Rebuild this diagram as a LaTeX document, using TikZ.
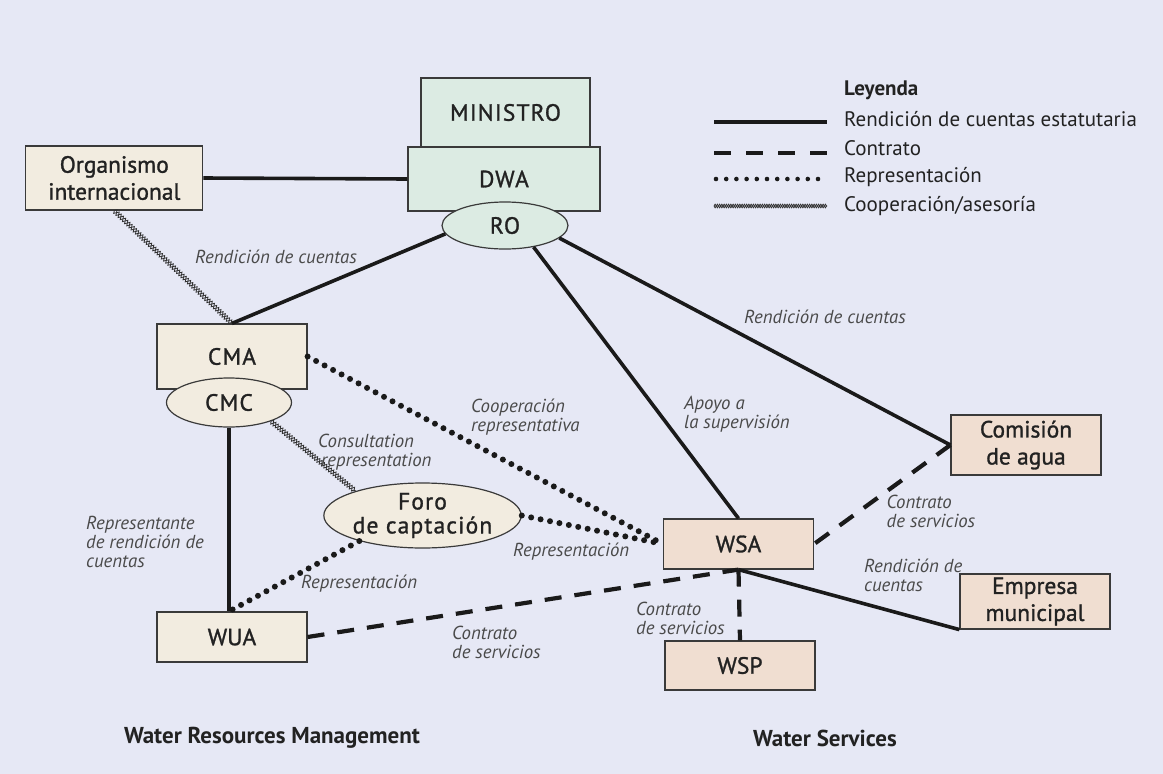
\documentclass[tikz,border=0pt]{standalone}
\usepackage{fontspec}
\setmainfont{PT Sans}
\newfontfamily\boxfont[FakeBold=1.2]{PT Sans}
\newfontfamily\spacedfont[LetterSpace=5,FakeBold=1.2]{PT Sans}
\usetikzlibrary{shapes.geometric,decorations.pathmorphing}
\definecolor{bgcol}{HTML}{E6E8F5}
\definecolor{greenf}{HTML}{DCEBE3}
\definecolor{creamf}{HTML}{F2ECE0}
\definecolor{peachf}{HTML}{F0DED1}
\definecolor{boxline}{HTML}{3A3A3A}
\definecolor{txt}{HTML}{222222}
\definecolor{lbl}{HTML}{4A4A4A}
\definecolor{ink}{HTML}{1A1A1A}
\begin{document}
\begin{tikzpicture}[x=1pt,y=-1pt,
  box/.style={draw=boxline, line width=1.2pt, inner sep=0pt, align=center,
    text=txt, font=\fontsize{23.5}{27}\boxfont},
  greenbox/.style={box, fill=greenf},
  creambox/.style={box, fill=creamf},
  peachbox/.style={box, fill=peachf},
  ell/.style={ellipse},
  spaced/.style={font=\fontsize{23.5}{24}\spacedfont},
  lab/.style={anchor=west, align=left, text=lbl, inner sep=0pt,
    font=\fontsize{18.8}{19}\selectfont\itshape},
  legtext/.style={anchor=west, inner sep=0pt, text=txt,
    font=\fontsize{21}{22}\selectfont},
  section/.style={inner sep=0pt, text=txt, font=\fontsize{23}{24}\selectfont\bfseries},
  solidline/.style={draw=ink, line width=3.6pt},
  contract/.style={draw=ink, line width=4.2pt, dash pattern=on 17pt off 13pt},
  dots/.style={draw=ink, line width=6pt, line cap=round, dash pattern=on 0pt off 9.6pt},
  coop/.style={draw=ink!90, line width=0.8pt, decorate,
    decoration={zigzag, segment length=6pt, amplitude=2.4pt}},
  coopm/.style={draw=ink!90, line width=0.8pt, decorate,
    decoration={zigzag, segment length=6pt, amplitude=2.4pt, mirror}}
]
% canvas
\fill[bgcol] (0,0) rectangle (1163,774);
\useasboundingbox (0,0) rectangle (1163,774);

% ministry and department
\node[greenbox, spaced, minimum width=169pt, minimum height=69pt] (min) at (505.5,112.5) {MINISTRO};
\node[greenbox, spaced, minimum width=192pt, minimum height=64pt] (dwa) at (504,179) {DWA};
\node[greenbox, ell, spaced, minimum width=126pt, minimum height=47pt] (ro) at (505,225.5) {RO};

% water resources side
\node[creambox, minimum width=177pt, minimum height=64pt] (org) at (114.3,178) {Organismo\\internacional};
\node[creambox, spaced, minimum width=150pt, minimum height=65pt] (cma) at (232,356.5) {CMA};
\node[creambox, ell, spaced, minimum width=125pt, minimum height=49pt] (cmc) at (229,402.5) {CMC};
\node[creambox, ell, spaced, minimum width=167pt, minimum height=65pt] (foro) at (422.5,515.5) {Foro\\de captación};
\node[creambox, minimum width=150pt, minimum height=50pt] (wua) at (232,637) {WUA};

% water services side
\node[peachbox, minimum width=150pt, minimum height=50pt] (wsa) at (738.5,544) {WSA};
\node[peachbox, minimum width=150pt, minimum height=60pt] (com) at (1026,445) {Comisión\\de agua};
\node[peachbox, minimum width=150pt, minimum height=55pt] (emp) at (1035,601.5) {Empresa\\municipal};
\node[peachbox, minimum width=150pt, minimum height=49pt] (wsp) at (740,665.5) {WSP};

% statutory accountability
\draw[solidline] (org.east) -- (dwa.west);
\draw[solidline] (ro.188) -- (cma.north);
\draw[solidline] (ro.-37) -- (wsa.north);
\draw[solidline] (ro.-13.5) -- (com.west);
\coordinate (wuatop) at (cmc.south |- wua.north);
\draw[solidline] (cmc.south) -- (wuatop);
\draw[solidline] (wsa.south) -- (emp.south west);

% contracts
\draw[contract] (wua.east) -- (wsa.south);
\draw[contract] (com.west) -- (wsa.east);
\draw[contract] (wsa.south) -- (wsp.north);

% representation
\draw[dots] (cma.east) -- (wsa.west);
\draw[dots] (foro.east) -- (wsa.west);
\draw[dots] (foro.202.5) -- (wuatop);

% cooperation / advice
\draw[coop] (org.south) -- (cma.north);
\draw[coopm] (org.south) -- (cma.north);
\draw[coop] (cmc.-24) -- (foro.160);
\draw[coopm] (cmc.-24) -- (foro.160);

% connector labels
\node[lab] (l1) at (195,257) {Rendición de cuentas};
\node[lab] (l2) at (744,317) {Rendición de cuentas};
\node[lab] (l3) at (471,417.5) {Cooperación\\representativa};
\node[lab] (l4) at (318,452.5) {Consultation\\\hspace*{3pt}representation};
\node[lab] (l5) at (684,414.5) {Apoyo a\\la supervisión};
\node[lab] (l6) at (86,542) {Representante\\de rendición de\\cuentas};
\node[lab] (l7) at (513,552) {Representación};
\node[lab] (l8) at (301,584) {Representación};
\node[lab] (l9) at (886.5,511.5) {Contrato\\de servicios};
\node[lab] (l10) at (864,575) {Rendición de\\cuentas};
\node[lab] (l11) at (636,618) {Contrato\\de servicios};
\node[lab] (l12) at (452,642) {Contrato\\de servicios};

% legend
\node[legtext, font=\fontsize{21}{22}\selectfont\bfseries] (leg) at (844,90) {Leyenda};
\node[legtext] (t1) at (844,119) {Rendición de cuentas estatutaria};
\node[legtext] (t2) at (844,148) {Contrato};
\node[legtext] (t3) at (844,177) {Representación};
\node[legtext] (t4) at (844,206) {Cooperación/asesoría};
\coordinate (a1) at (714,122); \coordinate (b1) at (827,122);
\coordinate (a2) at (714,153); \coordinate (b2) at (827,153);
\coordinate (a3) at (716,179); \coordinate (b3) at (827,179);
\coordinate (a4) at (714,206); \coordinate (b4) at (827,206);
\draw[solidline] (a1) -- (b1);
\draw[contract, dash pattern=on 17pt off 15pt] (a2) -- (b2);
\draw[dots, line width=4.6pt, dash pattern=on 0pt off 10.2pt] (a3) -- (b3);
\draw[coop, decoration={zigzag, segment length=4.5pt, amplitude=1.8pt}] (a4) -- (b4);
\draw[coopm, decoration={zigzag, segment length=4.5pt, amplitude=1.8pt, mirror}] (a4) -- (b4);

% section captions
\node[section] (s1) at (272,738) {Water Resources Management};
\node[section] (s2) at (825,738) {Water Services};
\end{tikzpicture}
\end{document}
